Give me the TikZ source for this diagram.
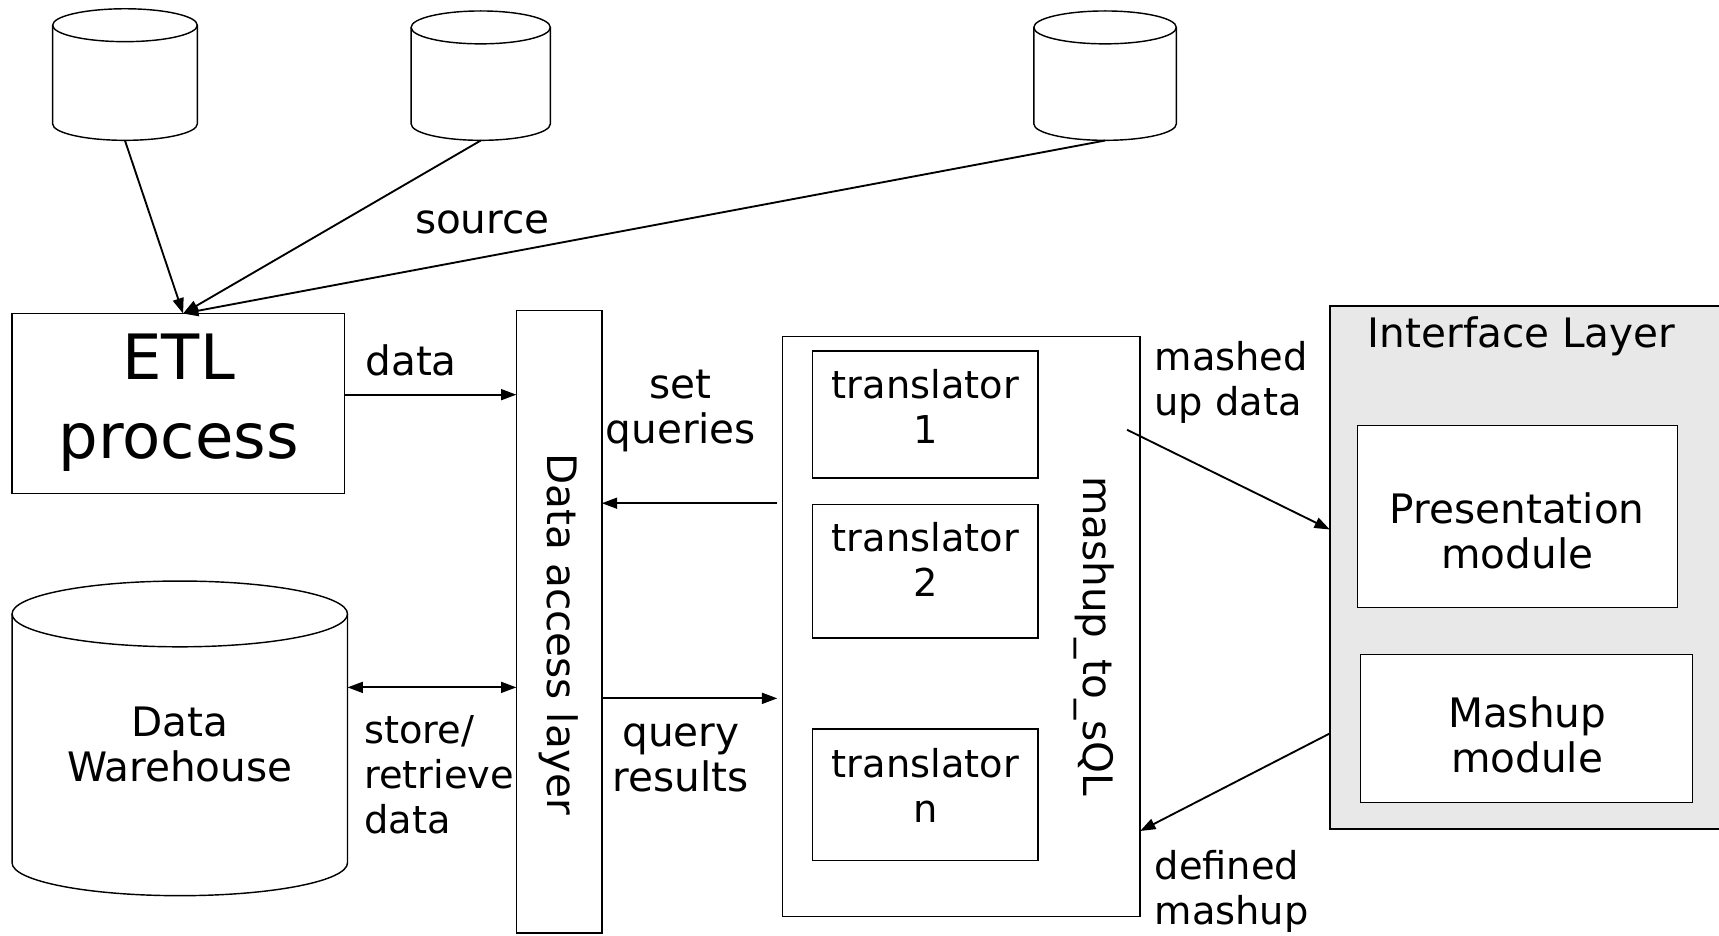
\documentclass[tikz,border=0pt]{standalone}
\usepackage{fontspec}
\setmainfont{DejaVu Sans}
\usetikzlibrary{arrows.meta}
\definecolor{ifgray}{RGB}{232,232,232}
\newcommand\dbcyl[6]{%
  \pgfmathsetmacro\dbcx{(#2+#3)/2}%
  \pgfmathsetmacro\dbrx{(#3-#2)/2}%
  \draw[line width=1.3pt,fill=white] (#2,#4+#6) -- (#2,#5-#6)
     arc[start angle=180,end angle=360,x radius=\dbrx pt,y radius=#6 pt]
     -- (#3,#4+#6)
     arc[start angle=0,end angle=180,x radius=\dbrx pt,y radius=#6 pt] -- cycle;
  \draw[line width=1.3pt] (#2,#4+#6)
     arc[start angle=180,end angle=360,x radius=\dbrx pt,y radius=#6 pt];
  \node[inner sep=0,minimum width={(#3-#2)*1pt},minimum height={(#5-#4)*1pt}] (#1) at (\dbcx,{(#4+#5)/2}) {};
}
\begin{document}
\begin{tikzpicture}[x=1pt,y=-1pt,
  lbl/.style={font=\fontsize{37}{41}\selectfont, inner sep=0, align=center},
  smlbl/.style={font=\fontsize{35}{41}\selectfont, inner sep=0, align=left},
  biglbl/.style={font=\fontsize{57}{72}\selectfont, inner sep=0, align=center},
  trlbl/.style={font=\fontsize{35}{41}\selectfont, inner sep=0, align=center},
  boxed/.style={draw, line width=1.3pt, inner sep=0},
  conn/.style={line width=1.7pt, -{Triangle[length=14pt,width=10pt]}},
  dconn/.style={line width=1.7pt, {Triangle[length=14pt,width=10pt]}-{Triangle[length=14pt,width=10pt]}},
]
\useasboundingbox (0,0) rectangle (1568,853);

% source databases
\dbcyl{cylA}{48}{180}{8}{128}{15}
\dbcyl{cylB}{375}{502}{10}{128}{15}
\dbcyl{cylC}{943}{1073}{10}{128}{15}

% ETL
\node[boxed, minimum width=303pt, minimum height=164pt] (etl) at (162.5,368) {};
\node[biglbl] (etltext) at (163,367) {ETL\\process};
\coordinate (etlin) at (167,286);

\draw[conn] (cylA.south) -- (etlin);
\draw[conn] (cylB.south) -- (etlin);
\draw[conn] (cylC.south) -- (etlin);
\node[lbl] (source) at (440,203) {source};

% Data access layer
\node[boxed, minimum width=78pt, minimum height=568pt] (dal) at (510,567) {};
\node[lbl, rotate=-90] (daltext) at (510,578.5) {Data access layer};

\coordinate (etlout) at (314,360);
\coordinate (dalin) at (471,360);
\draw[conn] (etlout) -- (dalin);
\node[lbl] (datalbl) at (375,329) {data};

% Data warehouse
\dbcyl{dw}{11}{317}{530}{817}{30}
\node[lbl] (dwtext) at (164,679) {Data\\Warehouse};
\coordinate (dwr) at (317,627);
\coordinate (dall) at (471,627);
\draw[dconn] (dwr) -- (dall);
\node[smlbl, anchor=west] (storelbl) at (332,707) {store/\\retrieve\\data};

% mashup_to_sQL
\node[boxed, minimum width=326pt, minimum height=529pt] (mash) at (877,571.5) {};
\node[lbl, rotate=-90] (mashtext) at (998,580) {mashup\_to\_sQL};

\node[boxed, minimum width=206pt, minimum height=116pt] (t1) at (844,378) {};
\node[trlbl] (t1text) at (844,371) {translator\\1};
\node[boxed, minimum width=206pt, minimum height=122pt] (t2) at (844,521) {};
\node[trlbl] (t2text) at (844,510) {translator\\2};
\node[boxed, minimum width=206pt, minimum height=120pt] (tn) at (844,725) {};
\node[trlbl] (tntext) at (844,716) {translator\\n};

\coordinate (mqout) at (709,459);
\coordinate (dalq) at (549,459);
\draw[conn] (mqout) -- (dalq);
\node[lbl] (setlbl) at (621,375) {set\\queries};

\coordinate (dalr) at (549,637);
\coordinate (mrin) at (709,637);
\draw[conn] (dalr) -- (mrin);
\node[lbl] (querylbl) at (621,691) {query\\results};

% Interface layer
\node[boxed, fill=ifgray, minimum width=362pt, minimum height=477pt] (il) at (1394,517.5) {};
\node[lbl] (iltext) at (1388,307) {Interface Layer};
\node[boxed, fill=white, minimum width=292pt, minimum height=166pt] (pres) at (1384,471) {};
\node[lbl] (prestext) at (1384,484) {Presentation\\module};
\node[boxed, fill=white, minimum width=303pt, minimum height=135pt] (mm) at (1392.5,664.5) {};
\node[lbl] (mmtext) at (1393,670) {Mashup\\module};

\coordinate (mdout) at (1028,392);
\coordinate (ilin) at (1213,483);
\draw[conn] (mdout) -- (ilin);
\node[smlbl, anchor=west] (mashedlbl) at (1053,349) {mashed\\up data};

\coordinate (ilout) at (1213,669);
\coordinate (mashin) at (1040,758);
\draw[conn] (ilout) -- (mashin);
\node[smlbl, anchor=west] (definedlbl) at (1053,813) {defined\\mashup};
\end{tikzpicture}
\end{document}
